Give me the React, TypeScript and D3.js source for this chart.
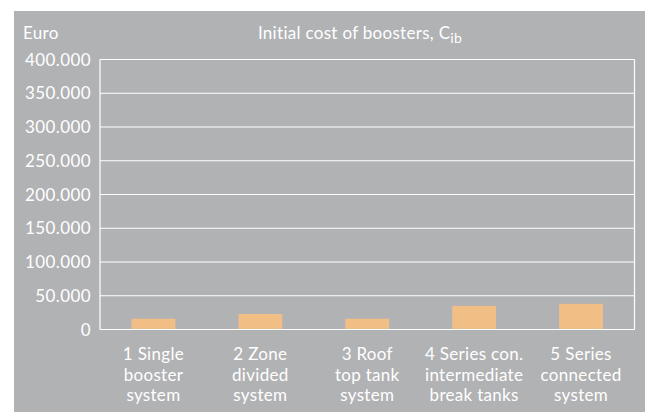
import React from "react";
import * as d3 from "d3";

const categories: string[][] = [
  ["1 Single", "booster", "system"],
  ["2 Zone", "divided", "system"],
  ["3 Roof", "top tank", "system"],
  ["4 Series con.", "intermediate", "break tanks"],
  ["5 Series", "connected", "system"],
];
const values: number[] = [16000, 23000, 16000, 35000, 38000];
const yTicks: number[] = [0, 50000, 100000, 150000, 200000, 250000, 300000, 350000, 400000];
const yTickLabels: string[] = ["0", "50.000", "100.000", "150.000", "200.000", "250.000", "300.000", "350.000", "400.000"];

const W = 645;
const H = 412;
const left = 100;
const right = 634.5;
const top = 59.5;
const bottom = 329.5;
const FONT = "Lato, 'Open Sans', sans-serif";

export default function App() {
  const x = d3
    .scaleBand<number>()
    .domain(values.map((_, i) => i))
    .range([left, right])
    .paddingInner(0.59)
    .paddingOuter(0.295);
  const y = d3.scaleLinear().domain([0, 400000]).range([bottom, top]);
  const step = (right - left) / values.length;

  return (
    <svg
      width={W}
      height={H}
      style={{ position: "absolute", left: 0, top: 0, display: "block" }}
    >
      <rect x={14} y={11} width={W - 14} height={H - 11} fill="#b1b2b4" />
      {yTicks.map((t, i) => (
        <g key={t}>
          <line
            x1={left}
            x2={right}
            y1={y(t)}
            y2={y(t)}
            stroke="#ffffff"
            strokeWidth={1.2}
          />
          <text
            x={91}
            y={y(t)}
            dy="0.36em"
            textAnchor="end"
            fill="#ffffff"
            fontFamily={FONT}
            fontSize={17}
            letterSpacing={0.4}
          >
            {yTickLabels[i]}
          </text>
        </g>
      ))}
      <line x1={left} x2={left} y1={top} y2={bottom} stroke="#ffffff" strokeWidth={1.2} />
      <line x1={right} x2={right} y1={top} y2={bottom} stroke="#ffffff" strokeWidth={1.2} />
      {values.map((v, i) => (
        <rect
          key={i}
          x={x(i)}
          y={y(v)}
          width={x.bandwidth()}
          height={y(0) - y(v) - 0.6}
          fill="#f1bf86"
        />
      ))}
      {categories.map((lines, i) =>
        lines.map((l, j) => (
          <text
            key={`${i}-${j}`}
            x={left + step * (i + 0.5)}
            y={360 + j * 20.5}
            textAnchor="middle"
            fill="#ffffff"
            fontFamily={FONT}
            fontSize={17}
            letterSpacing={0.3}
          >
            {l}
          </text>
        ))
      )}
      <text x={23} y={39} fill="#ffffff" fontFamily={FONT} fontSize={17} letterSpacing={0.3}>
        Euro
      </text>
      <text
        x={360}
        y={39}
        textAnchor="middle"
        fill="#ffffff"
        fontFamily={FONT}
        fontSize={17}
        letterSpacing={0.3}
      >
        Initial cost of boosters, C
        <tspan fontSize={14} dy={4}>ib</tspan>
      </text>
    </svg>
  );
}
